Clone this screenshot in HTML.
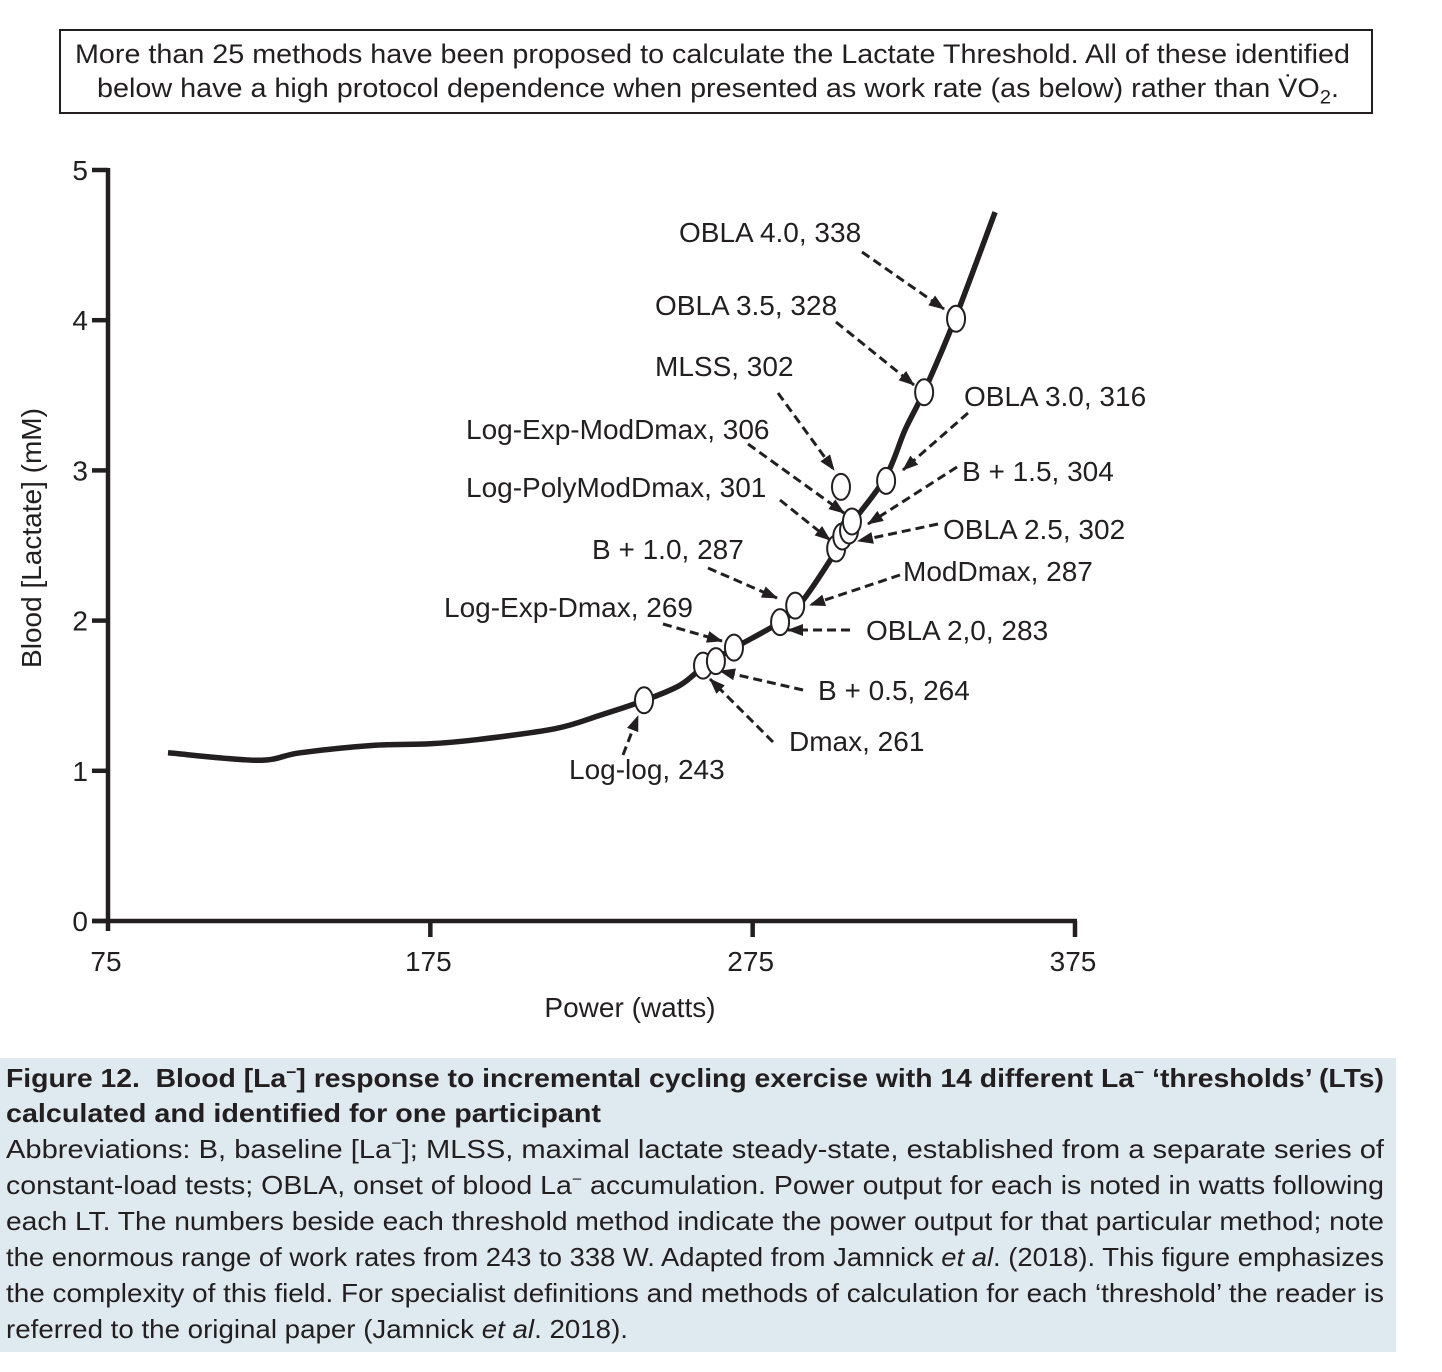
<!DOCTYPE html>
<html><head><meta charset="utf-8">
<style>
html,body{margin:0;padding:0;background:#fff;}
body{width:1442px;height:1372px;position:relative;overflow:hidden;font-family:"Liberation Sans",Arial,sans-serif;color:#231f20;}
.fit{position:absolute;white-space:nowrap;transform-origin:0 0;}
#title-box{position:absolute;left:59px;top:29px;width:1314px;height:85px;border:2px solid #231f20;box-sizing:border-box;}
#caption{position:absolute;left:0;top:1058px;width:1396px;height:294px;background:#dfe9f0;}
.cap{font-size:26px;}
.capb{font-weight:bold;}
</style></head>
<body>
<div id="title-box"></div>
<div class="fit" data-w="1275" style="left:75px;top:39px;font-size:27px;">More than 25 methods have been proposed to calculate the Lactate Threshold. All of these identified</div>
<div class="fit" data-w="1242" style="left:97px;top:73px;font-size:27px;">below have a high protocol dependence when presented as work rate (as below) rather than V̇O<sub style="font-size:19px">2</sub>.</div>

<svg id="chart" width="1442" height="1050" style="position:absolute;left:0;top:0;">
<defs><marker id="ah" viewBox="0 0 16 12" refX="15" refY="6" markerWidth="16" markerHeight="12" orient="auto" markerUnits="userSpaceOnUse"><path d="M0,0 L16,6 L0,12 z" fill="#231f20"/></marker></defs>
<g id="axes"></g><g id="curve"></g><g id="arrows"></g><g id="markers"></g><g id="labels"></g>
</svg>

<div id="caption"></div>
<div class="fit cap capb" data-w="1378" style="left:6px;top:1063px;">Figure 12.&nbsp; Blood [La<sup style="font-size:16px">−</sup>] response to incremental cycling exercise with 14 different La<sup style="font-size:16px">−</sup> ‘thresholds’ (LTs)</div>
<div class="fit cap capb" data-w="595" style="left:6px;top:1098px;">calculated and identified for one participant</div>
<div class="fit cap" data-w="1378" style="left:6px;top:1134px;">Abbreviations: B, baseline [La<sup style="font-size:16px">−</sup>]; MLSS, maximal lactate steady-state, established from a separate series of</div>
<div class="fit cap" data-w="1378" style="left:6px;top:1170px;">constant-load tests; OBLA, onset of blood La<sup style="font-size:16px">−</sup> accumulation. Power output for each is noted in watts following</div>
<div class="fit cap" data-w="1378" style="left:6px;top:1206px;">each LT. The numbers beside each threshold method indicate the power output for that particular method; note</div>
<div class="fit cap" data-w="1378" style="left:6px;top:1242px;">the enormous range of work rates from 243 to 338 W. Adapted from Jamnick <i>et al</i>. (2018). This figure emphasizes</div>
<div class="fit cap" data-w="1378" style="left:6px;top:1278px;">the complexity of this field. For specialist definitions and methods of calculation for each ‘threshold’ the reader is</div>
<div class="fit cap" data-w="622" style="left:6px;top:1314px;">referred to the original paper (Jamnick <i>et al</i>. 2018).</div>

<script>
// ---- data ----
const curveWatts = [93.6,121.5,134.6,157.8,174.9,190.4,213.7,227.7,241.6,252.5,260.2,269.5,283.5,289.7,299.0,305.2,316.1,322.3,328.5,337.8,350.2];
const curveLactate = [1.12,1.07,1.12,1.17,1.18,1.21,1.28,1.37,1.47,1.57,1.70,1.82,1.99,2.11,2.40,2.63,2.95,3.27,3.54,4.01,4.72];
const markerWatts = [241.3,259.6,263.6,269.2,283.5,288.2,300.9,302.8,304.9,305.8,302.4,316.4,328.2,338.1];
const markerLactate = [1.47,1.70,1.73,1.82,1.99,2.10,2.48,2.56,2.60,2.66,2.89,2.93,3.52,4.01];
const xTicks = [75,175,275,375];
const yTicks = [0,1,2,3,4,5];
const labelTexts = ["OBLA 4.0, 338","OBLA 3.5, 328","MLSS, 302","Log-Exp-ModDmax, 306","Log-PolyModDmax, 301","B + 1.0, 287","Log-Exp-Dmax, 269","Log-log, 243","OBLA 3.0, 316","B + 1.5, 304","OBLA 2.5, 302","ModDmax, 287","OBLA 2,0, 283","B + 0.5, 264","Dmax, 261"];
// annotation layout (pixels): label pos, arrow tail, arrow head
const labelPos = [[679,232],[655,305],[655,366],[466,429],[466,487],[592,549],[444,607],[569,769],[964,396],[962,471],[943,529],[903,571],[866,630],[818,690],[789,741]];
const arrowPx = [[862,252,944,309],[836,322,914,385],[778,393,834,470],[748,444,844,513],[780,500,830,540],[708,568,777,598],[663,624,722,641],[623,755,638,716],[968,413,903,470],[957,467,868,524],[938,524,858,541],[900,575,810,605],[850,630,788,630],[803,690,720,671],[773,742,710,679]];

const NS="http://www.w3.org/2000/svg";
const X0=108,X1=1075,Y0=921,Y5=170;
function xs(w){return X0+(w-75)/300*(X1-X0);}
function ys(v){return Y0-v/5*(Y0-Y5);}
function mk(tag,attrs,parent){const e=document.createElementNS(NS,tag);for(const k in attrs)e.setAttribute(k,attrs[k]);parent.appendChild(e);return e;}
const axes=document.getElementById('axes');
const ink="#231f20";
let a=mk('line',{x1:X0,y1:Y5-2,x2:X0,y2:Y0+10,stroke:ink,'stroke-width':4.5},axes);


a=mk('line',{x1:X0-16,y1:Y0,x2:X1+2,y2:Y0,stroke:ink,'stroke-width':4.5},axes);


yTicks.forEach(v=>{
  const t=mk('line',{x1:X0-16,y1:ys(v),x2:X0,y2:ys(v),stroke:ink,'stroke-width':4.5},axes);
  
  
  const l=mk('text',{x:X0-20,y:ys(v)+10,'text-anchor':'end','font-size':28,fill:ink},axes);
  l.textContent=v;
  
  
});
xTicks.forEach(v=>{
  if(v!==75){const t=mk('line',{x1:xs(v),y1:Y0,x2:xs(v),y2:Y0+16,stroke:ink,'stroke-width':4.5},axes);
  
  }
  const l=mk('text',{x:xs(v)-2,y:971,'text-anchor':'middle','font-size':28,fill:ink},axes);
  l.textContent=v;
  
  
});
let t=mk('text',{x:630,y:1017,'text-anchor':'middle','font-size':28,fill:ink},axes);
t.textContent="Power (watts)";


t=mk('text',{x:0,y:0,'text-anchor':'middle','font-size':28,fill:ink,transform:'translate(41,538) rotate(-90)'},axes);
t.textContent="Blood [Lactate] (mM)";



// smooth path (Catmull-Rom)
const P=curveWatts.map((w,i)=>[xs(w),ys(curveLactate[i])]);
let d="M"+P[0][0].toFixed(1)+","+P[0][1].toFixed(1);
for(let i=0;i<P.length-1;i++){
  const p0=P[Math.max(0,i-1)],p1=P[i],p2=P[i+1],p3=P[Math.min(P.length-1,i+2)];
  const c1=[p1[0]+(p2[0]-p0[0])/6,p1[1]+(p2[1]-p0[1])/6],c2=[p2[0]-(p3[0]-p1[0])/6,p2[1]-(p3[1]-p1[1])/6];
  d+=" C"+c1.map(v=>v.toFixed(1)).join(",")+" "+c2.map(v=>v.toFixed(1)).join(",")+" "+p2.map(v=>v.toFixed(1)).join(",");
}
const c=mk('path',{d:d,fill:'none',stroke:ink,'stroke-width':5.5,'stroke-linejoin':'round','stroke-linecap':'butt'},document.getElementById('curve'));



const ag=document.getElementById('arrows');
arrowPx.forEach(p=>{
  const l=mk('line',{x1:p[0],y1:p[1],x2:p[2],y2:p[3],stroke:ink,'stroke-width':3,'stroke-dasharray':'9,5','marker-end':'url(#ah)'},ag);
  
  
});
const mg=document.getElementById('markers');
markerWatts.forEach((w,i)=>{
  const e=mk('ellipse',{cx:xs(w),cy:ys(markerLactate[i]),rx:9,ry:13,fill:'#fff',stroke:ink,'stroke-width':2},mg);
  
  
});
const lg=document.getElementById('labels');
labelTexts.forEach((s,i)=>{
  const l=mk('text',{x:labelPos[i][0],y:labelPos[i][1]+10,'font-size':28,fill:ink},lg);
  l.textContent=s;
  
  
});
// fit text lines
document.querySelectorAll('.fit').forEach(el=>{
  const w=el.getBoundingClientRect().width;const target=+el.getAttribute('data-w');
  if(w>0)el.style.transform='scaleX('+(target/w)+')';
});
</script>
</body></html>
